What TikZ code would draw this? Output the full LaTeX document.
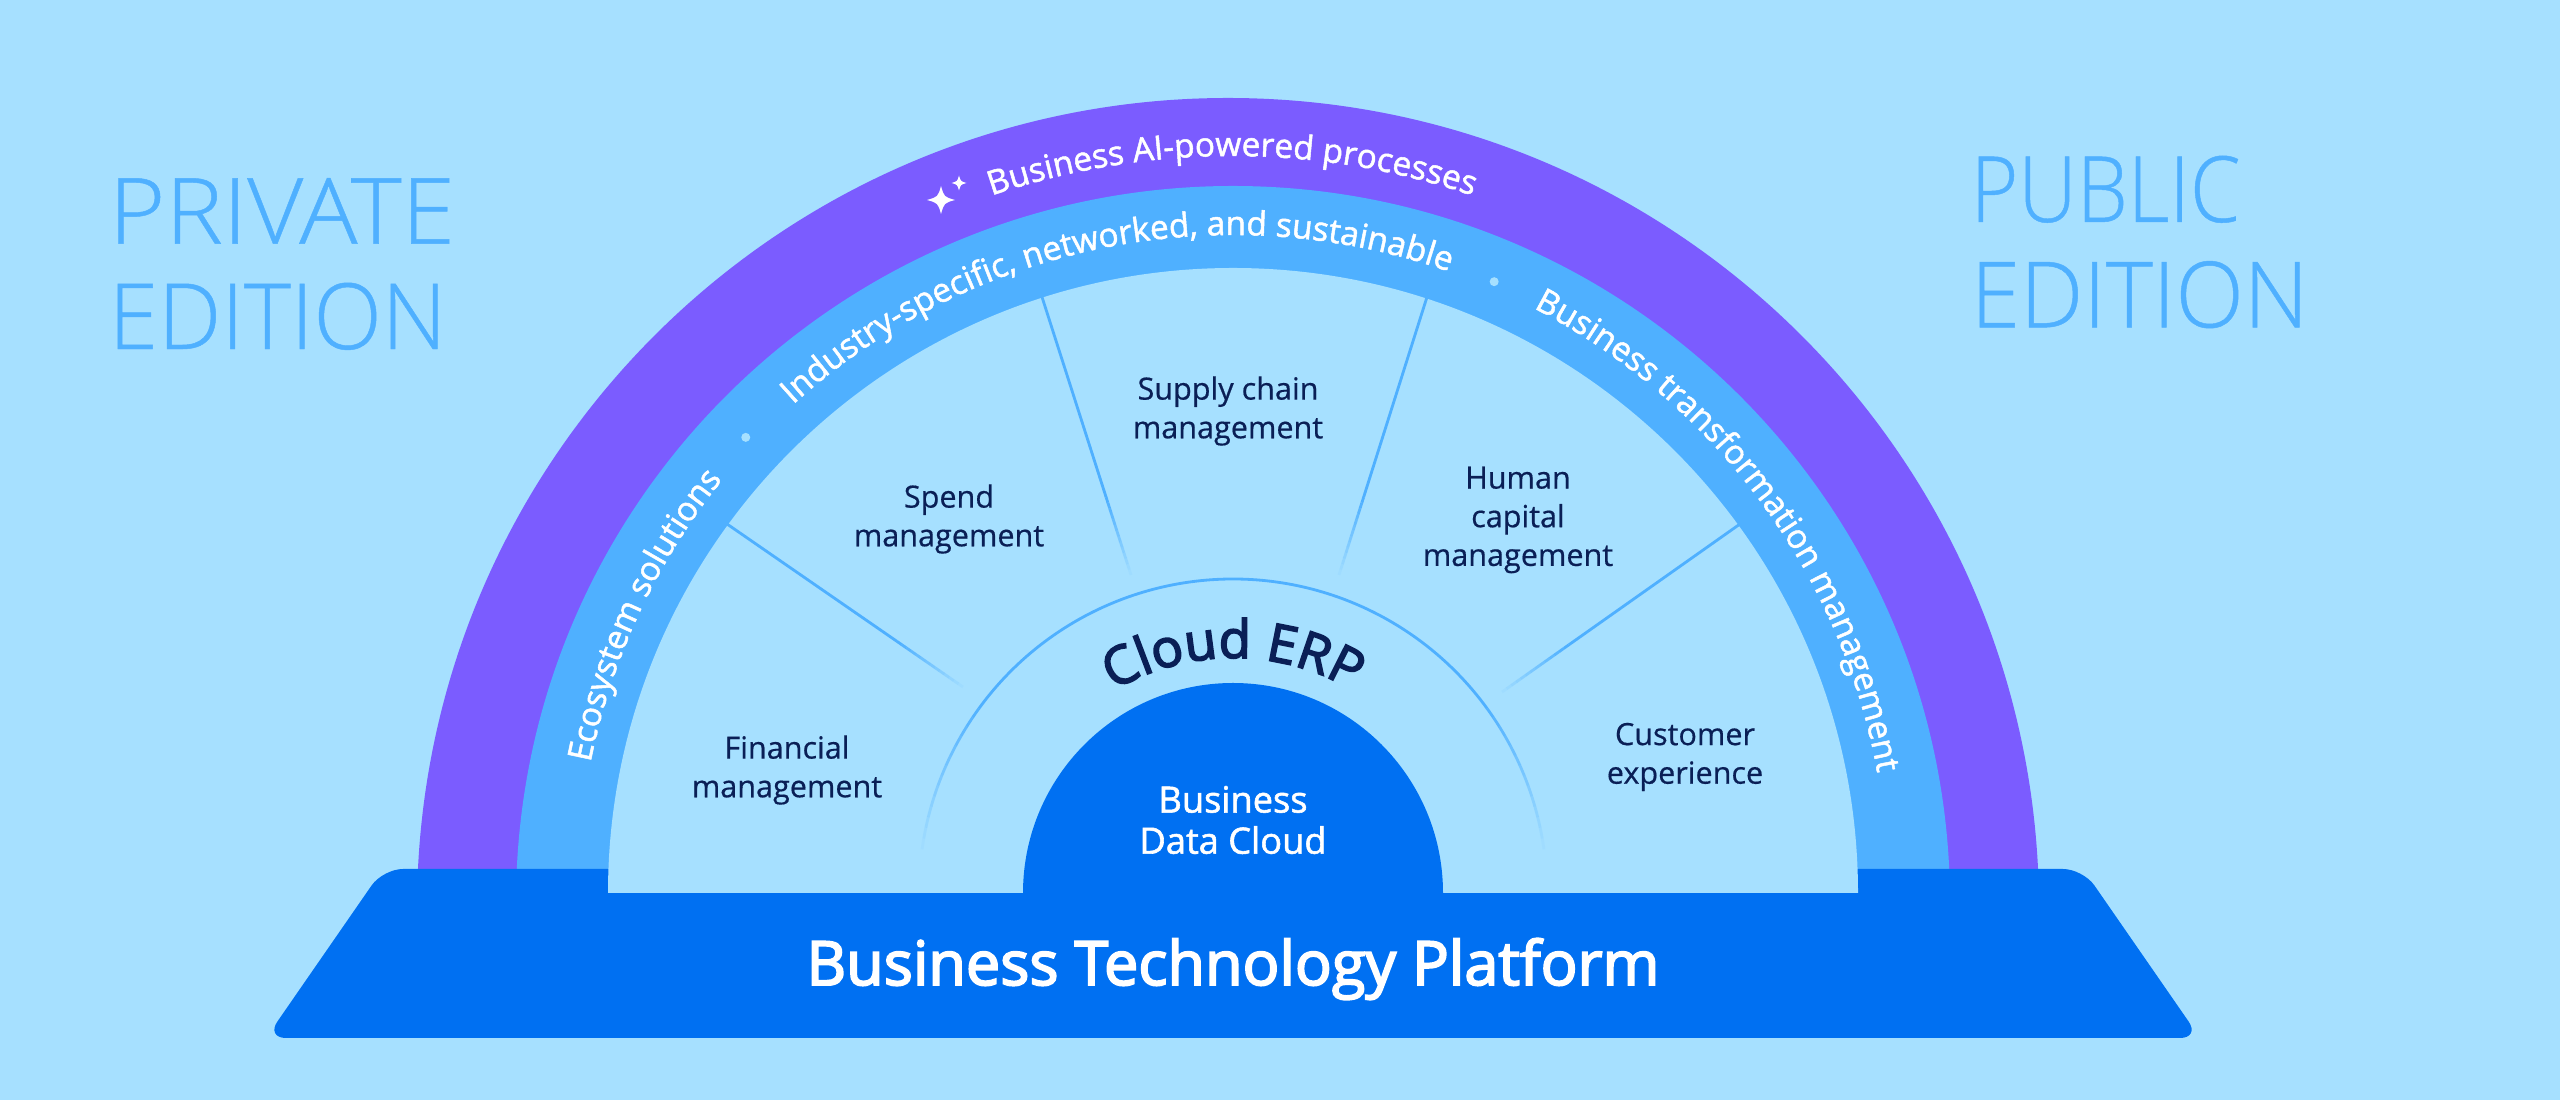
\documentclass[tikz,border=0pt]{standalone}
\usepackage{fontspec}
\setmainfont{Open Sans}
\newfontfamily\areafont[FakeBold=0.5]{Open Sans}
\newfontfamily\medfont[FakeBold=1.5]{Open Sans}
\newfontfamily\semifont[FakeBold=3]{Open Sans}
\newfontfamily\lightfont[FakeBold=0.5]{Open Sans Light}
\usepackage{xcolor}
\usepackage{tikz}
\usetikzlibrary{calc,decorations.text}
\definecolor{sky}{HTML}{A6E0FF}
\definecolor{mid}{HTML}{4FB0FF}
\definecolor{violet}{HTML}{7B5CFF}
\definecolor{plat}{HTML}{0070F2}
\definecolor{navy}{HTML}{0A1F56}
\newcommand{\bandfont}{\medfont\fontsize{9.5}{11}\selectfont\color{white}}
\newcommand{\erpfont}{\semifont\fontsize{15}{18}\selectfont\color{navy}}
\newcommand{\wide}[2]{{\addfontfeature{FakeStretch=#1}#2}}
\tikzset{
  area/.style={text=navy, font=\areafont\fontsize{8.7}{11}\selectfont, align=center, inner sep=0pt},
  edition/.style={text=mid, font=\lightfont\fontsize{26}{30}\selectfont, align=left, anchor=west, inner sep=0pt},
  spoke/.style={draw=mid, line width=0.8pt},
  curv/.style={decorate, decoration={text along path, text align=center, text={#1}}},
  sep/.style={circle, fill=sky, inner sep=0pt, minimum size=0.09cm},
  sparkle/.pic={
    \fill[white] (0,1) .. controls (0.22,0.22) .. (1,0) .. controls (0.22,-0.22) .. (0,-1)
      .. controls (-0.22,-0.22) .. (-1,0) .. controls (-0.22,0.22) .. cycle;
  },
}

\begin{document}
\begin{tikzpicture}
  \def\ro{8.11}
  \def\rb{7.17}
  \def\rl{6.25}
  \def\rd{2.10}
  \def\rc{3.14}
  \def\rp{7.50}
  \def\rt{6.55}
  \useasboundingbox (0,0) rectangle (25.6,11);
  \fill[sky] (0,0) rectangle (25.6,11);
  \coordinate (CO) at (12.28,1.91);
  \coordinate (CB) at (12.33,1.97);
  \coordinate (D) at (12.33,2.07);
  \coordinate (CP) at (12.32,1.94);
  \coordinate (CT) at (12.33,2.10);

  % bands
  \fill[violet] ($(CO)+(180:\ro)$) arc (180:0:\ro) -- cycle;
  \fill[mid] ($(CB)+(180:\rb)$) arc (180:0:\rb) -- cycle;

  % platform
  \fill[plat, rounded corners=0.2cm] (2.66,0.62) -- (3.83,2.31) -- (20.83,2.31) -- (22.00,0.62) -- cycle;
  \fill[sky] ($(D)+(180:\rl)$) arc (180:0:\rl) -- cycle;
  \fill[plat] ($(D)+(180:\rd)$) arc (180:0:\rd) -- cycle;

  % spokes, fading towards the middle
  \coordinate (A1) at (7.27,5.76);  \coordinate (B1) at (9.63,4.13);
  \coordinate (A2) at (10.42,8.03); \coordinate (B2) at (11.31,5.25);
  \coordinate (A3) at (14.27,8.03); \coordinate (B3) at (13.39,5.25);
  \coordinate (A4) at (17.40,5.76); \coordinate (B4) at (15.02,4.08);
  \foreach \i in {1,...,4}{
    \draw[spoke] (A\i) -- ($(A\i)!0.72!(B\i)$);
    \foreach \t [evaluate=\t as \o using (100-\t)/28] in {72,74,...,98}
      \draw[spoke, opacity=\o] ($(A\i)!\t/100!(B\i)$) -- ($(A\i)!\t/100+0.02!(B\i)$);
  }

  % inner thin arc
  \draw[spoke] ($(D)+(36:\rc)$) arc (36:144:\rc);
  \foreach \t [evaluate=\t as \o using (\t-6)/30] in {6,8,...,34}{
    \draw[spoke, opacity=\o] ($(D)+(\t:\rc)$) arc (\t:\t+2:\rc);
    \draw[spoke, opacity=\o] ($(D)+(180-\t:\rc)$) arc (180-\t:178-\t:\rc);
  }

  % text on the bands
  \path[curv={|\bandfont|Business AI-powered processes}] ($(CP)+(115:\rp)$) arc (115:65:\rp);
  \path[curv={|\bandfont|Ecosystem solutions}] ($(CT)+(176:\rt)$) arc (176:134:\rt);
  \path[curv={|\bandfont|Industry-specific, networked, and sustainable}] ($(CT)+(141.5:\rt)$) arc (141.5:61.5:\rt);
  \path[curv={|\bandfont|Business transformation management}] ($(CT)+(66.6:\rt)$) arc (66.6:6.4:\rt);
  \node[sep] (dotl) at ($(CB)+(136.3:6.74)$) {};
  \node[sep] (dotr) at ($(CB)+(67.2:6.74)$) {};
  \path (9.41,9.00) pic[scale=0.14] {sparkle};
  \path (9.59,9.17) pic[scale=0.075] {sparkle};

  \path[curv={|\erpfont|Cloud ERP}] ($(D)+(150:2.35)$) arc (150:30:2.35);

  % labels
  \node[area] (fin) at (7.87,3.30) {Financial\\management};
  \node[area] (spend) at (9.49,5.81) {Spend\\management};
  \node[area] (supply) at (12.28,6.89) {Supply chain\\management};
  \node[area] (hcm) at (15.18,5.80) {Human\\capital\\management};
  \node[area] (cx) at (16.85,3.43) {Customer\\experience};
  \node[text=white, align=center, inner sep=0pt, font=\medfont\fontsize{10.3}{11.7}\selectfont] (bdc) at (12.33,2.80) {Business\\Data Cloud};
  \node[text=white, inner sep=0pt, font=\semifont\fontsize{17.4}{20}\selectfont] (btp) at (12.33,1.31) {Business Technology Platform};
  \node[edition] (priv) at (1.08,8.36) {\wide{1.06}{PRIVATE}\\\wide{0.98}{EDITION}};
  \node[edition] (pub) at (19.70,8.58) {\wide{0.89}{PUBLIC}\\\wide{0.98}{EDITION}};
\end{tikzpicture}
\end{document}
